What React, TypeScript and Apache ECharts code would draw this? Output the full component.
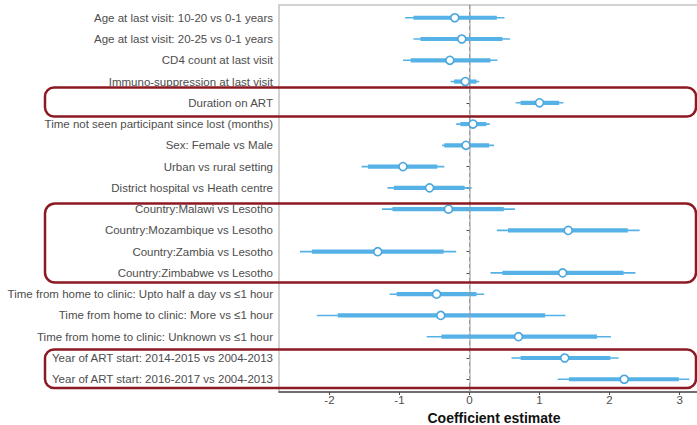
import React, { useEffect, useRef } from "react";
import * as echarts from "echarts";

const categories = [
  "Age at last visit: 10-20 vs 0-1 years",
  "Age at last visit: 20-25 vs 0-1 years",
  "CD4 count at last visit",
  "Immuno-suppression at last visit",
  "Duration on ART",
  "Time not seen participant since lost (months)",
  "Sex: Female vs Male",
  "Urban vs rural setting",
  "District hospital vs Heath centre",
  "Country:Malawi vs Lesotho",
  "Country:Mozambique vs Lesotho",
  "Country:Zambia vs Lesotho",
  "Country:Zimbabwe vs Lesotho",
  "Time from home to clinic: Upto half a day vs \u22641 hour",
  "Time from home to clinic: More vs \u22641 hour",
  "Time from home to clinic: Unknown vs \u22641 hour",
  "Year of ART start: 2014-2015 vs 2004-2013",
  "Year of ART start: 2016-2017 vs 2004-2013",
];

const outerLow = [-0.92, -0.8, -0.95, -0.27, 0.66, -0.19, -0.39, -1.54, -1.17, -1.25, 0.39, -2.42, 0.3, -1.14, -2.18, -0.61, 0.6, 1.26];
const innerLow = [-0.8, -0.7, -0.84, -0.22, 0.73, -0.13, -0.36, -1.45, -1.08, -1.1, 0.55, -2.25, 0.47, -1.04, -1.88, -0.4, 0.73, 1.42];
const estimate = [-0.21, -0.11, -0.28, -0.06, 1.0, 0.05, -0.05, -0.95, -0.57, -0.3, 1.41, -1.31, 1.33, -0.47, -0.41, 0.7, 1.36, 2.21];
const innerHigh = [0.39, 0.47, 0.3, 0.1, 1.28, 0.24, 0.28, -0.46, -0.07, 0.49, 2.26, -0.37, 2.2, 0.1, 1.08, 1.82, 2.01, 2.99];
const outerHigh = [0.5, 0.58, 0.4, 0.14, 1.34, 0.29, 0.35, -0.36, 0.03, 0.65, 2.43, -0.19, 2.37, 0.21, 1.37, 2.02, 2.13, 3.14];

const xTicks = [-2, -1, 0, 1, 2, 3];
const rowPositions = categories.map((_, i) => i + 1);

const BLUE = "#55b1e6";
const RED = "#8c1a22";
const FONT = "'Liberation Sans', Arial, Helvetica, sans-serif";

export default function App() {
  const ref = useRef<HTMLDivElement>(null);

  useEffect(() => {
    document.body.style.margin = "0";
    const chart = echarts.init(ref.current!, null, { renderer: "svg" });
    const data = categories.map((_, i) => [
      i + 1,
      outerLow[i],
      innerLow[i],
      estimate[i],
      innerHigh[i],
      outerHigh[i],
    ]);

    const option: any = {
      animation: false,
      backgroundColor: "#ffffff",
      textStyle: { fontFamily: FONT },
      grid: {
        left: 279,
        top: 5,
        right: -12,
        bottom: 33,
        outerBoundsMode: "none",
        containLabel: false,
        show: true,
        borderColor: "#c4c4c4",
        borderWidth: 1.5,
        backgroundColor: "transparent",
      },
      xAxis: {
        type: "value",
        min: -2.72,
        max: 3.42,
        splitLine: { show: false },
        axisLine: { show: true, lineStyle: { color: "#4d4d4d", width: 1.5 } },
        axisTick: {
          show: true,
          length: 3,
          customValues: xTicks,
          lineStyle: { color: "#4d4d4d", width: 1 },
        },
        axisLabel: {
          customValues: xTicks,
          color: "#4d4d4d",
          fontSize: 11.5,
          margin: 2,
          fontFamily: FONT,
        },
        name: "Coefficient estimate",
        nameLocation: "middle",
        nameGap: 15,
        nameTextStyle: {
          color: "#111111",
          fontSize: 14,
          fontWeight: "bold",
          fontFamily: FONT,
        },
      },
      yAxis: {
        type: "value",
        inverse: true,
        min: 0.4,
        max: 18.6,
        splitLine: { show: false },
        axisLine: { show: true, lineStyle: { color: "#b8b8b8", width: 1.5 } },
        axisTick: {
          show: true,
          length: 3,
          customValues: rowPositions,
          lineStyle: { color: "#4d4d4d", width: 1 },
        },
        axisLabel: {
          customValues: rowPositions,
          color: "#4d4d4d",
          fontSize: 11.5,
          margin: 6,
          fontFamily: FONT,
          formatter: (v: number) => categories[Math.round(v) - 1] ?? "",
        },
      },
      series: [
        {
          type: "custom",
          data,
          encode: { x: [1, 2, 3, 4, 5], y: 0 },
          renderItem: (params: any, api: any) => {
            const y = api.value(0);
            const pOL = api.coord([api.value(1), y]);
            const pIL = api.coord([api.value(2), y]);
            const pE = api.coord([api.value(3), y]);
            const pIH = api.coord([api.value(4), y]);
            const pOH = api.coord([api.value(5), y]);
            return {
              type: "group",
              children: [
                {
                  type: "line",
                  shape: { x1: pOL[0], y1: pOL[1], x2: pOH[0], y2: pOH[1] },
                  style: { stroke: BLUE, lineWidth: 1.6 },
                },
                {
                  type: "line",
                  shape: { x1: pIL[0], y1: pIL[1], x2: pIH[0], y2: pIH[1] },
                  style: { stroke: BLUE, lineWidth: 4.2 },
                },
                {
                  type: "circle",
                  shape: { cx: pE[0], cy: pE[1], r: 4 },
                  style: { fill: "#ffffff", stroke: "#4aa6dd", lineWidth: 1.6 },
                },
              ],
            };
          },
          markLine: {
            silent: true,
            symbol: "none",
            label: { show: false },
            lineStyle: { color: "#9a9a9a", type: [4, 3], width: 1 },
            data: [{ xAxis: 0 }],
            z: 10,
          },
        },
      ],
      graphic: [
        {
          type: "rect",
          shape: { x: 45, y: 87.5, width: 651, height: 29, r: 9 },
          style: { fill: "none", stroke: RED, lineWidth: 2.5 },
          z: 100,
        },
        {
          type: "rect",
          shape: { x: 45, y: 203.5, width: 651, height: 79, r: 10 },
          style: { fill: "none", stroke: RED, lineWidth: 2.5 },
          z: 100,
        },
        {
          type: "rect",
          shape: { x: 45, y: 349.5, width: 651, height: 38.5, r: 9 },
          style: { fill: "none", stroke: RED, lineWidth: 2.5 },
          z: 100,
        },
      ],
    };

    chart.setOption(option);
    return () => chart.dispose();
  }, []);

  return (
    <div
      ref={ref}
      style={{ position: "absolute", left: 0, top: 0, width: 697, height: 425 }}
    />
  );
}
